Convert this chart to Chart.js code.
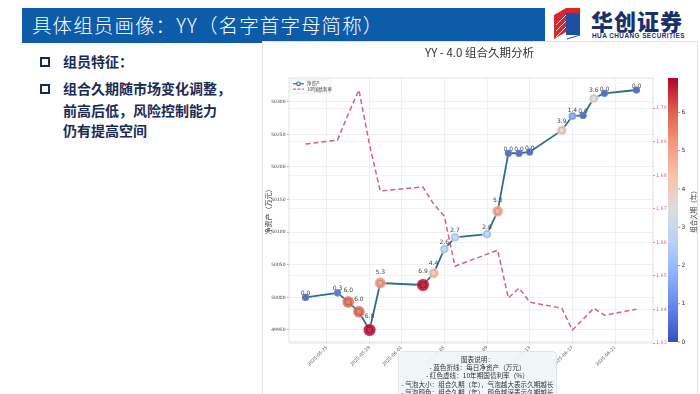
<!DOCTYPE html>
<html>
<head>
<meta charset="utf-8">
<script src="https://cdn.jsdelivr.net/npm/chart.js@4.4.1/dist/chart.umd.min.js"></script>
<style>
html,body{margin:0;padding:0;background:#fff;}
body{width:700px;height:394px;position:relative;overflow:hidden;font-family:"Noto Sans CJK SC","Noto Sans",sans-serif;}
#bar{position:absolute;left:22px;top:8px;width:523px;height:35px;background:#0d5caa;}
#bar span{position:absolute;left:10px;top:4px;color:#fff;font-size:19.5px;letter-spacing:1.1px;line-height:26px;font-weight:300;white-space:nowrap;}
.logo-cn{position:absolute;left:591px;top:6px;font-size:22px;font-weight:900;color:#1b2f6b;letter-spacing:1px;white-space:nowrap;line-height:28px;}
.logo-en{position:absolute;left:592px;top:32px;font-size:6.4px;font-weight:700;color:#1b2f6b;white-space:nowrap;font-family:"Liberation Sans",sans-serif;letter-spacing:0.45px;}
.bul{position:absolute;left:40px;width:6px;height:6px;border:2px solid #1b2a55;}
.txt{position:absolute;left:63px;font-size:14px;font-weight:700;color:#1b2a55;white-space:nowrap;line-height:20px;}
#panel{position:absolute;left:262px;top:41px;width:434px;height:360px;background:#fff;border:1px solid #e2e2e2;}
#chart{position:absolute;left:262px;top:42px;}
#note{position:absolute;left:398px;top:351px;width:159px;height:50px;background:rgba(240,245,246,0.92);border:1px solid #dfe5e8;border-radius:5px;font-size:6.6px;line-height:8.2px;color:#333;text-align:center;padding-top:3px;box-sizing:border-box;white-space:nowrap;}
</style>
</head>
<body>
<div id="bar"><span>具体组员画像：YY（名字首字母简称）</span></div>
<svg style="position:absolute;left:550px;top:5px" width="36" height="36" viewBox="0 0 36 36">
  <polygon points="4,10 16,3 16,27 4,34" fill="#d9262e"/>
  <polygon points="16,3 30,3 30,8 16,8" fill="#d9262e"/>
  <polygon points="16,8 30,8 30,30 16,30" fill="#1e4fa3"/>
  <line x1="6" y1="32" x2="16" y2="22" stroke="#fff" stroke-width="0.8"/>
  <line x1="6" y1="26" x2="16" y2="16" stroke="#fff" stroke-width="0.8"/>
  <line x1="6" y1="20" x2="16" y2="10" stroke="#fff" stroke-width="0.8"/>
  <line x1="17" y1="34" x2="30" y2="30" stroke="#1e4fa3" stroke-width="1"/>
</svg>
<div class="logo-cn">华创证券</div>
<div class="logo-en">HUA CHUANG SECURITIES</div>

<div class="bul" style="top:57px"></div>
<div class="txt" style="top:51px">组员特征：</div>
<div class="bul" style="top:84px"></div>
<div class="txt" style="top:78px">组合久期随市场变化调整，</div>
<div class="txt" style="top:100px">前高后低，风险控制能力</div>
<div class="txt" style="top:120px">仍有提高空间</div>

<div id="panel"></div>
<canvas id="chart" width="435" height="352"></canvas>
<div id="note">图表说明：<br>- 蓝色折线：每日净资产（万元）<br>- 红色虚线：10年期国债利率（%）<br>- 气泡大小：组合久期（年），气泡越大表示久期越长<br>- 气泡颜色：组合久期（年），颜色越深表示久期越长</div>

<script>
// ---- data ----
const dates = ['2025-05-23','2025-05-26','2025-05-27','2025-05-28','2025-05-29','2025-05-30',
  '2025-06-03','2025-06-04','2025-06-05','2025-06-06','2025-06-09','2025-06-10','2025-06-11',
  '2025-06-12','2025-06-13','2025-06-16','2025-06-17','2025-06-18','2025-06-19','2025-06-20','2025-06-23'];
const netAssets = [50000, 50007, 49993, 49978, 49950, 50022, 50019, 50037, 50074, 50092, 50097,
  50132, 50221, 50221, 50223, 50256, 50278, 50279, 50305, 50313, 50318];
const durations = [0.0, 0.3, 6.0, 6.0, 6.9, 5.3, 6.9, 4.4, 2.6, 2.7, 2.6, 5.0, 0.0, 0.0, 0.0,
  3.9, 1.4, 0.0, 3.6, 0.0, 0.0];
const yields = [1.6893, 1.6905, 1.6982, 1.7054, 1.6890, 1.6753, 1.6765, 1.6714, 1.6678, 1.6529,
  1.6565, 1.6577, 1.6434, 1.6464, 1.6422, 1.6404, 1.6339, 1.6371, 1.6404, 1.6383, 1.6401];
const xTickDates = ['2025-05-25','2025-05-29','2025-06-01','2025-06-05','2025-06-09','2025-06-13','2025-06-17','2025-06-21'];
const yTicks = [49950, 50000, 50050, 50100, 50150, 50200, 50250, 50300];
const y2Ticks = [1.63, 1.64, 1.65, 1.66, 1.67, 1.68, 1.69, 1.70];
const cbTicks = [0, 1, 2, 3, 4, 5, 6];
const seriesNames = ['净资产', '10Y国债利率'];
const chartTitle = 'YY - 4.0 组合久期分析';
const yTitle = '净资产（万元）';
const cbTitle = '组合久期（年）';

// ---- helpers ----
const toUTC = s => Date.UTC(+s.slice(0,4), +s.slice(5,7)-1, +s.slice(8,10));
const day0 = toUTC(dates[0]);
const dayOf = s => (toUTC(s) - day0) / 864e5;
const xs = dates.map(dayOf);
const dateByDay = {};
xTickDates.forEach(d => { dateByDay[dayOf(d)] = d; });
const margin = (arr) => { const mn = Math.min(...arr), mx = Math.max(...arr), r = mx - mn; return [mn - 0.05*r, mx + 0.05*r]; };
const [xMin, xMax] = margin(xs);
const [yMin, yMax] = margin(netAssets);
const [y2Min, y2Max] = margin(yields);
const vmax = Math.max(...durations);

const cw = [[0,[59,76,192]],[0.125,[98,130,234]],[0.25,[141,176,254]],[0.375,[184,208,249]],
  [0.5,[221,221,221]],[0.625,[245,196,173]],[0.75,[244,154,123]],[0.875,[222,96,76]],[1,[180,4,38]]];
function coolwarm(t, a) {
  t = Math.max(0, Math.min(1, t));
  for (let i = 1; i < cw.length; i++) {
    if (t <= cw[i][0]) {
      const [t0,c0] = cw[i-1], [t1,c1] = cw[i];
      const f = (t - t0) / (t1 - t0);
      const c = c0.map((v,k) => Math.round(v + (c1[k]-v)*f));
      return a === undefined ? `rgb(${c})` : `rgba(${c},${a})`;
    }
  }
}
const radiusOf = d => Math.sqrt(10 + 4.2*d);

const FONT = "'DejaVu Sans','Noto Sans CJK SC',sans-serif";
const CJK = "'Noto Sans CJK SC','DejaVu Sans',sans-serif";
const LINE_COLOR = '#2b6f8e';
const DASH_COLOR = 'rgba(206,82,118,0.9)';

const labelPlugin = {
  id: 'dlabels',
  afterDatasetDraw(chart, args) {
    if (args.index !== 1) return;
    const ctx = chart.ctx, meta = chart.getDatasetMeta(0);
    ctx.save();
    ctx.font = `6px ${FONT}`;
    ctx.fillStyle = '#444';
    ctx.textAlign = 'center';
    ctx.textBaseline = 'middle';
    meta.data.forEach((el, i) => {
      ctx.fillText(durations[i].toFixed(1), el.x, el.y - (3.5 + 1.4*durations[i]));
    });
    ctx.restore();
  }
};

const framePlugin = {
  id: 'frame',
  afterDraw(chart) {
    const ctx = chart.ctx, a = chart.chartArea;
    ctx.save();
    ctx.strokeStyle = '#dadada';
    ctx.lineWidth = 0.8;
    ctx.strokeRect(a.left, a.top, a.right - a.left, a.bottom - a.top);
    // legend
    const lx = a.left + 2, ly = a.top + 2;
    ctx.fillStyle = 'rgba(255,255,255,0.9)';
    ctx.strokeStyle = '#dddddd';
    ctx.lineWidth = 0.6;
    ctx.beginPath(); ctx.roundRect(lx, ly, 40, 13, 1.5); ctx.fill(); ctx.stroke();
    ctx.lineWidth = 1.2;
    ctx.strokeStyle = LINE_COLOR;
    ctx.beginPath(); ctx.moveTo(lx + 2, ly + 3.8); ctx.lineTo(lx + 13, ly + 3.8); ctx.stroke();
    ctx.fillStyle = '#fff';
    ctx.beginPath(); ctx.arc(lx + 7.5, ly + 3.8, 1.8, 0, Math.PI*2); ctx.fill(); ctx.stroke();
    ctx.strokeStyle = DASH_COLOR;
    ctx.setLineDash([3, 1.5]);
    ctx.beginPath(); ctx.moveTo(lx + 2, ly + 9.2); ctx.lineTo(lx + 13, ly + 9.2); ctx.stroke();
    ctx.setLineDash([]);
    ctx.fillStyle = '#333';
    ctx.font = `4.4px ${CJK}`;
    ctx.textBaseline = 'middle';
    ctx.fillText(seriesNames[0], lx + 16, ly + 3.8);
    ctx.fillText(seriesNames[1], lx + 16, ly + 9.2);
    // colorbar
    const x0 = a.right + 15, w = 10;
    const g = ctx.createLinearGradient(0, a.bottom, 0, a.top);
    cw.forEach(([t]) => g.addColorStop(t, coolwarm(t)));
    ctx.fillStyle = g;
    ctx.fillRect(x0, a.top, w, a.bottom - a.top);
    ctx.fillStyle = '#333';
    ctx.strokeStyle = '#555';
    ctx.lineWidth = 0.6;
    ctx.font = `6px ${FONT}`;
    ctx.textAlign = 'left';
    cbTicks.forEach(v => {
      const y = a.bottom - v / vmax * (a.bottom - a.top);
      ctx.beginPath(); ctx.moveTo(x0 + w, y); ctx.lineTo(x0 + w + 2, y); ctx.stroke();
      ctx.fillText(String(v), x0 + w + 3.5, y);
    });
    ctx.translate(x0 + w + 16, (a.top + a.bottom) / 2);
    ctx.rotate(-Math.PI / 2);
    ctx.textAlign = 'center';
    ctx.font = `6.5px ${CJK}`;
    ctx.fillStyle = '#444';
    ctx.fillText(cbTitle, 0, 0);
    ctx.restore();
  }
};

new Chart(document.getElementById('chart'), {
  type: 'line',
  data: {
    datasets: [
      {
        type: 'bubble',
        data: xs.map((x, i) => ({ x, y: netAssets[i], r: radiusOf(durations[i]) })),
        backgroundColor: durations.map(d => coolwarm(d / vmax, 0.82)),
        borderColor: 'rgba(255,255,255,0.55)',
        borderWidth: 0.6,
        yAxisID: 'y',
        clip: false
      },
      {
        label: seriesNames[0],
        data: xs.map((x, i) => ({ x, y: netAssets[i] })),
        borderColor: LINE_COLOR,
        borderWidth: 1.8,
        pointRadius: 3,
        pointBorderWidth: 1.2,
        pointBackgroundColor: '#ffffff',
        pointBorderColor: LINE_COLOR,
        tension: 0,
        yAxisID: 'y'
      },
      {
        label: seriesNames[1],
        data: xs.map((x, i) => ({ x, y: yields[i] })),
        borderColor: DASH_COLOR,
        borderWidth: 1.5,
        borderDash: [5, 3],
        pointRadius: 0,
        tension: 0,
        yAxisID: 'y2'
      }
    ]
  },
  options: {
    responsive: false,
    animation: false,
    events: [],
    devicePixelRatio: 1,
    layout: { padding: 0 },
    plugins: {
      legend: { display: false },
      tooltip: { enabled: false },
      title: {
        display: true, text: chartTitle, color: '#333',
        font: { family: CJK, size: 11.5, weight: 'normal' },
        padding: { top: 4, bottom: 18.2 }
      }
    },
    scales: {
      x: {
        type: 'linear', min: xMin, max: xMax,
        afterBuildTicks: s => { s.ticks = xTickDates.map(d => ({ value: dayOf(d) })); },
        afterFit: s => { s.height = 52; },
        ticks: {
          autoSkip: false, minRotation: 45, maxRotation: 45, padding: 1,
          color: '#555', font: { family: FONT, size: 4.5 },
          callback: v => dateByDay[v] || ''
        },
        grid: { color: '#ececec', lineWidth: 0.8, tickLength: 2, tickColor: '#bbb' },
        border: { display: false }
      },
      y: {
        type: 'linear', position: 'left', min: yMin, max: yMax,
        afterBuildTicks: s => { s.ticks = yTicks.map(v => ({ value: v })); },
        afterFit: s => { s.width = 27; },
        ticks: { color: '#444', font: { family: FONT, size: 4.5 }, padding: 1.5, callback: v => String(v) },
        grid: { color: '#ececec', lineWidth: 0.8, tickLength: 2, tickColor: '#999' },
        border: { display: false },
        title: { display: true, text: yTitle, color: '#333', font: { family: CJK, size: 7 }, padding: { top: 2, bottom: 0 } }
      },
      y2: {
        type: 'linear', position: 'right', min: y2Min, max: y2Max,
        afterBuildTicks: s => { s.ticks = y2Ticks.map(v => ({ value: v })); },
        afterFit: s => { s.width = 44; },
        ticks: { color: '#d2668a', font: { family: FONT, size: 4.8 }, padding: 1, callback: v => v.toFixed(2) },
        grid: { color: '#efefef', lineWidth: 0.8, tickLength: 2, tickColor: '#d2668a' },
        border: { display: false }
      }
    }
  },
  plugins: [labelPlugin, framePlugin]
});
</script>
</body>
</html>
